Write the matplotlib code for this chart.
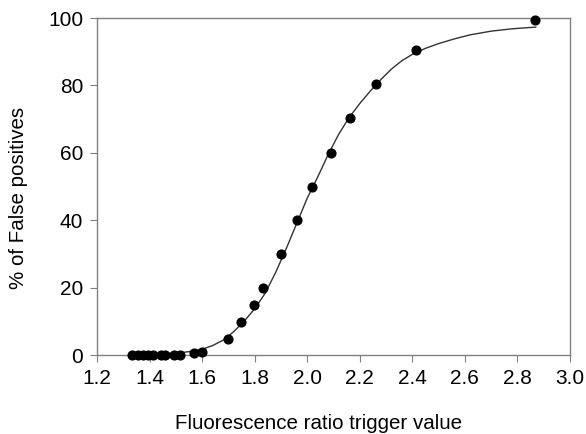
import matplotlib

matplotlib.use("Agg")
import matplotlib.pyplot as plt

plt.rcParams["font.family"] = ["Liberation Sans", "DejaVu Sans"]

# measured points
trigger = [1.335, 1.355, 1.375, 1.395, 1.415, 1.445, 1.46, 1.495, 1.515,
           1.57, 1.60, 1.70, 1.75, 1.797, 1.833, 1.90, 1.96, 2.02, 2.09,
           2.163, 2.262, 2.414, 2.867]
false_pos = [0, 0, 0, 0, 0, 0, 0, 0, 0,
             0.5, 1, 4.7, 9.8, 14.8, 20, 30, 40, 50, 60,
             70.2, 80.3, 90.4, 99.3]

# fitted curve
fit_x = [1.33, 1.40, 1.46, 1.52, 1.56, 1.60, 1.64, 1.68, 1.72, 1.76, 1.80,
         1.84, 1.88, 1.92, 1.96, 2.00, 2.04, 2.08, 2.12, 2.16, 2.20, 2.24,
         2.28, 2.32, 2.36, 2.40, 2.45, 2.50, 2.56, 2.62, 2.70, 2.78, 2.87]
fit_y = [0.1, 0.2, 0.4, 0.7, 1.1, 1.7, 2.8, 4.4, 6.9, 10.0, 13.7,
         18.3, 24.5, 31.5, 39.0, 46.5, 52.8, 59.5, 65.5, 70.5, 74.6, 78.3,
         81.7, 84.8, 87.3, 89.2, 91.0, 92.4, 93.8, 95.0, 96.1, 96.8, 97.3]

fig = plt.figure(figsize=(5.86, 4.34), dpi=100)
ax = fig.add_axes([0.1655, 0.182, 0.807, 0.7765])
ax.plot(fit_x, fit_y, color="#333333", lw=1.0, zorder=2)
ax.plot(trigger, false_pos, "o", color="black", ms=6.3, zorder=3, clip_on=False)

ax.set_xlim(1.2, 3.0)
ax.set_ylim(0, 100)
ax.set_xticks([1.2, 1.4, 1.6, 1.8, 2.0, 2.2, 2.4, 2.6, 2.8, 3.0])
ax.set_xticklabels(["1.2", "1.4", "1.6", "1.8", "2.0", "2.2", "2.4", "2.6", "2.8", "3.0"])
ax.set_yticks([0, 20, 40, 60, 80, 100])
for s in ax.spines.values():
    s.set_color("#808080")
    s.set_linewidth(1.0)
ax.tick_params(direction="out", length=5, color="#808080", labelsize=15, pad=5)
ax.set_xlabel("Fluorescence ratio trigger value", fontsize=14.8)
ax.set_ylabel("% of False positives", fontsize=14.8)
ax.xaxis.set_label_coords(0.469, -0.174)
ax.yaxis.set_label_coords(-0.146, 0.466)

fig.savefig("out.png", dpi=100)
